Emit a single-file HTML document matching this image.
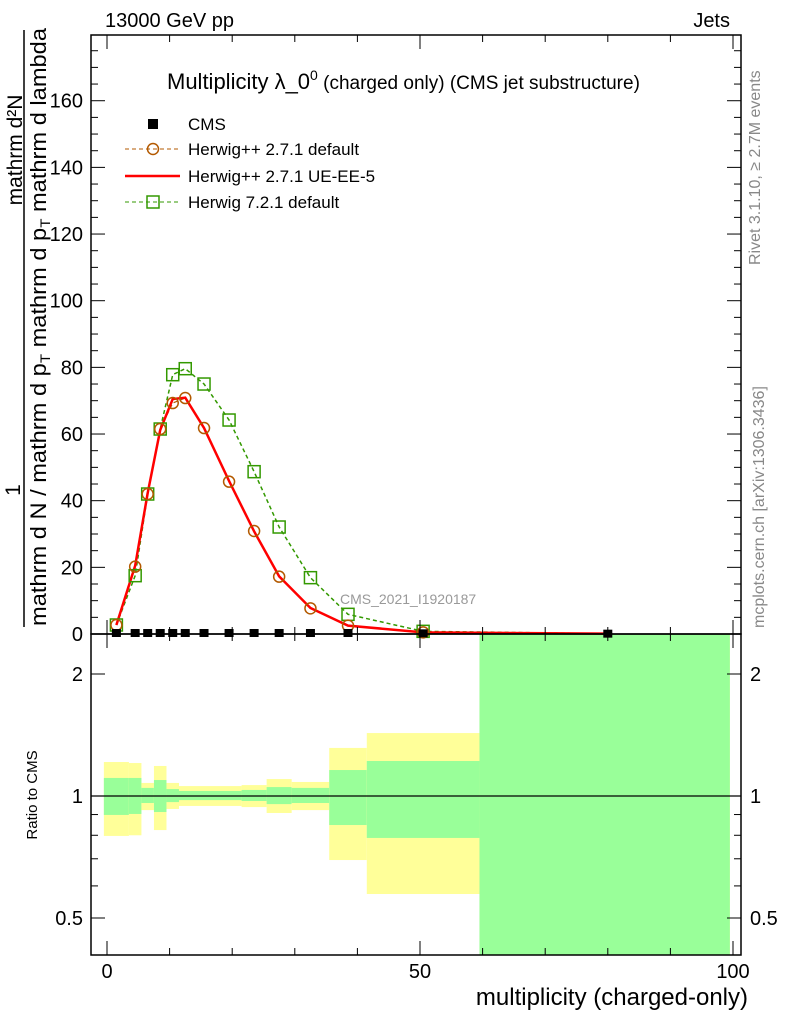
<!DOCTYPE html>
<html><head><meta charset="utf-8"><style>
body{margin:0;background:#fff;}
svg{display:block;font-family:"Liberation Sans",sans-serif;}
</style></head><body>
<svg id="chart" width="786" height="1024" viewBox="0 0 786 1024" xmlns="http://www.w3.org/2000/svg">
<g id="ratio-bands"></g>
<g id="main-series"></g>
<g id="axes"></g>
<text x="105" y="27" font-size="20">13000 GeV pp</text>
<text x="730" y="27" font-size="20" text-anchor="end">Jets</text>
<text x="167" y="89" font-size="22">Multiplicity λ_0<tspan font-size="14" dy="-9">0</tspan><tspan font-size="19" dy="9"> (charged only) (CMS jet substructure)</tspan></text>
<text x="340" y="604" font-size="14" fill="#999">CMS_2021_I1920187</text>
<text transform="translate(760,265) rotate(-90)" font-size="16" fill="#888">Rivet 3.1.10, ≥ 2.7M events</text>
<text transform="translate(764,628) rotate(-90)" font-size="16" fill="#888">mcplots.cern.ch [arXiv:1306.3436]</text>
<g>
<text transform="translate(22,150) rotate(-90)" font-size="21" text-anchor="middle">mathrm d²N</text>
<text transform="translate(20,490) rotate(-90)" font-size="21" text-anchor="middle">1</text>
<line x1="24" y1="30" x2="24" y2="627" stroke="#000" stroke-width="1.5"/>
<text transform="translate(46,626) rotate(-90)" font-size="22" textLength="598" lengthAdjust="spacingAndGlyphs">mathrm d N / mathrm d p<tspan font-size="14" dy="4">T</tspan><tspan dy="-4"> mathrm d p</tspan><tspan font-size="14" dy="4">T</tspan><tspan dy="-4"> mathrm d lambda</tspan></text>
</g>
<text transform="translate(37,795) rotate(-90)" font-size="15" text-anchor="middle">Ratio to CMS</text>
<text x="748" y="1005" font-size="24" text-anchor="end">multiplicity (charged-only)</text>
<g>
<g><rect x="148" y="119" width="10" height="10" fill="#000"/><text x="188" y="130" font-size="17">CMS</text></g>
<g><line x1="125" y1="149" x2="180" y2="149" stroke="#b35900" stroke-dasharray="4,3"/><circle cx="153" cy="149" r="5.5" fill="none" stroke="#b35900" stroke-width="1.5"/><text x="188" y="155" font-size="17">Herwig++ 2.7.1 default</text></g>
<g><line x1="125" y1="176" x2="180" y2="176" stroke="#f00" stroke-width="2.5"/><text x="188" y="182" font-size="17">Herwig++ 2.7.1 UE-EE-5</text></g>
<g><line x1="125" y1="202" x2="180" y2="202" stroke="#339900" stroke-dasharray="4,3"/><rect x="147" y="196" width="12" height="12" fill="none" stroke="#339900" stroke-width="1.5"/><text x="188" y="208" font-size="17">Herwig 7.2.1 default</text></g>
</g>
</svg>
<script>
const xCenters=[1.5,4.5,6.5,8.5,10.5,12.5,15.5,19.5,23.5,27.5,32.5,38.5,50.5,80];
const cmsValues=[0.3,0.3,0.3,0.3,0.3,0.3,0.3,0.3,0.3,0.3,0.3,0.3,0.2,0.1];
const herwigDefault=[2.7,20.2,42,61.5,69.3,70.8,61.8,45.7,30.9,17.2,7.7,2.5,0.5,0.1];
const herwigUE=[2.7,20.5,42.3,61.2,70.5,70.9,61.8,45.9,30.8,17.3,7.8,2.5,0.5,0.1];
const herwig721=[2.7,17.5,42,61.5,77.8,79.6,75,64.2,48.7,32.1,16.9,5.9,0.8,0.1];
const binEdges=[-0.5,3.5,5.5,7.5,9.5,11.5,21.5,25.5,29.5,35.5,41.5,59.5,99.5];
const yellowHi=[1.213,1.206,1.077,1.186,1.077,1.058,1.064,1.101,1.083,1.314,1.43,3];
const greenHi=[1.108,1.108,1.047,1.095,1.04,1.029,1.035,1.052,1.047,1.159,1.22,3];
const greenLo=[0.898,0.903,0.961,0.913,0.966,0.977,0.972,0.955,0.961,0.848,0.788,0.3];
const yellowLo=[0.797,0.80,0.923,0.824,0.929,0.945,0.939,0.908,0.923,0.695,0.573,0.3];
const xTicks=[0,50,100];
const yTicks=[0,20,40,60,80,100,120,140,160];
const rTicks=[0.5,1,2];

const L=91,R=741,T=35,B=634,RB=955;
const X=v=>107+(v)*6.26;
const Y=v=>634-v*3.333;
const RY=v=>796-Math.log2(v)*122;
const NS="http://www.w3.org/2000/svg";
function mk(tag,attrs,parent){const e=document.createElementNS(NS,tag);for(const k in attrs)e.setAttribute(k,attrs[k]);parent.appendChild(e);return e;}
const bands=document.getElementById('ratio-bands');
const clampR=v=>Math.min(RB,Math.max(B,RY(v)));
for(let i=0;i<yellowHi.length;i++){
  const x0=X(binEdges[i]),x1=Math.min(X(binEdges[i+1]),R);
  const y=mk('rect',{x:x0,y:clampR(yellowHi[i]),width:x1-x0,height:clampR(yellowLo[i])-clampR(yellowHi[i]),fill:'#ffff99'},bands);
  
  
  const g=mk('rect',{x:x0,y:clampR(greenHi[i]),width:x1-x0,height:clampR(greenLo[i])-clampR(greenHi[i]),fill:'#99ff99'},bands);
  
  
}
const ms=document.getElementById('main-series');
function pts(arr){return arr.map((v,i)=>X(xCenters[i])+','+Y(v)).join(' ');}
const l3=mk('polyline',{points:pts(herwig721),fill:'none',stroke:'#339900','stroke-width':1.5,'stroke-dasharray':'4,3'},ms);


const l1=mk('polyline',{points:pts(herwigDefault),fill:'none',stroke:'#b35900','stroke-width':1.2,'stroke-dasharray':'4,3'},ms);


const l2=mk('polyline',{points:pts(herwigUE),fill:'none',stroke:'#f00','stroke-width':2.5},ms);


herwig721.forEach((v,i)=>{if(xCenters[i]>60)return;const r=mk('rect',{x:X(xCenters[i])-6,y:Y(v)-6,width:12,height:12,fill:'none',stroke:'#339900','stroke-width':1.5},ms);

});
herwigDefault.forEach((v,i)=>{if(xCenters[i]>60)return;const c=mk('circle',{cx:X(xCenters[i]),cy:Y(v),r:5.5,fill:'none',stroke:'#b35900','stroke-width':1.5},ms);

});
cmsValues.forEach((v,i)=>{const r=mk('rect',{x:X(xCenters[i])-4.5,y:Y(v)-4,width:9,height:8,fill:'#000'},ms);

});
const ax=document.getElementById('axes');
mk('rect',{x:L,y:T,width:R-L,height:B-T,fill:'none',stroke:'#000','stroke-width':1.5},ax);
mk('rect',{x:L,y:B,width:R-L,height:RB-B,fill:'none',stroke:'#000','stroke-width':1.5},ax);
mk('line',{x1:L,y1:RY(1),x2:R,y2:RY(1),stroke:'#000','stroke-width':1.2},ax);
for(let v=0;v<=100;v+=10){const big=xTicks.includes(v);const l=big?14:7;
  [[B,-1],[T,1],[RB,-1],[B,1]].forEach(([y0,d])=>mk('line',{x1:X(v),y1:y0,x2:X(v),y2:y0+d*l,stroke:'#000'},ax));}
xTicks.forEach(v=>{const t=mk('text',{x:X(v),y:978,'font-size':20,'text-anchor':'middle'},ax);t.textContent=v;

});
for(let v=0;v<=175;v+=5){const big=v%20===0;const l=big?14:7;
  mk('line',{x1:L,y1:Y(v),x2:L+l,y2:Y(v),stroke:'#000'},ax);mk('line',{x1:R,y1:Y(v),x2:R-l,y2:Y(v),stroke:'#000'},ax);}
yTicks.forEach(v=>{const t=mk('text',{x:83,y:Y(v)+7,'font-size':20,'text-anchor':'end'},ax);t.textContent=v;

});
[0.5,0.6,0.7,0.8,0.9,1,2].forEach(v=>{const big=rTicks.includes(v);const l=big?14:7;
  mk('line',{x1:L,y1:RY(v),x2:L+l,y2:RY(v),stroke:'#000'},ax);mk('line',{x1:R,y1:RY(v),x2:R-l,y2:RY(v),stroke:'#000'},ax);});
rTicks.forEach(v=>{[83,750].forEach((x,j)=>{const t=mk('text',{x:x,y:RY(v)+7,'font-size':20,'text-anchor':j?'start':'end'},ax);t.textContent=v;

});});
</script>
</body></html>
